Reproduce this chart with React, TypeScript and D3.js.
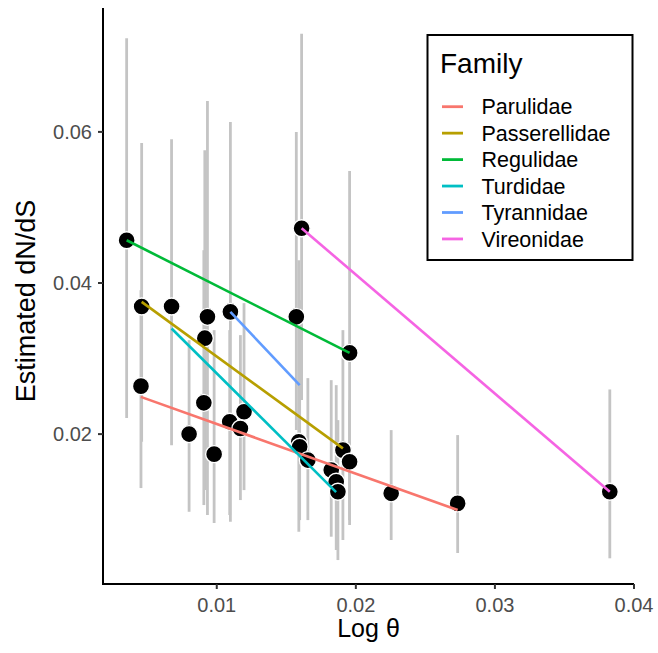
import React from "react";
import * as d3 from "d3";

// Points (estimated dN/dS vs Log θ) with confidence intervals
const pointX = [0.00352, 0.0046, 0.00455, 0.00675, 0.00933, 0.00914, 0.01098, 0.00907, 0.01196, 0.01093, 0.0117, 0.00801, 0.00981, 0.01572, 0.0161, 0.01955, 0.0159, 0.01596, 0.01655, 0.01907, 0.01955, 0.01823, 0.01859, 0.01871, 0.02254, 0.02732, 0.03826];
const pointY = [0.04566, 0.0369, 0.02635, 0.0369, 0.03552, 0.0327, 0.03618, 0.02414, 0.02295, 0.02163, 0.02075, 0.02, 0.01735, 0.03552, 0.04725, 0.03075, 0.01898, 0.01832, 0.01656, 0.01788, 0.01634, 0.01524, 0.01369, 0.01237, 0.01216, 0.01083, 0.01237];
const ciLow = [0.02212, 0.01898, 0.01286, 0.01854, 0.00929, 0.01259, 0.0084, 0.01061, 0.01259, 0.00929, 0.01127, 0.00972, 0.00823, 0.02053, 0.0245, 0.00796, 0.00708, 0.00862, 0.00862, 0.00598, 0.00862, 0.00642, 0.00466, 0.00333, 0.00598, 0.00426, 0.00356];
const ciHigh = [0.07238, 0.05853, 0.03905, 0.05902, 0.06409, 0.05757, 0.06131, 0.04434, 0.03733, 0.03376, 0.0331, 0.03243, 0.03376, 0.05999, 0.073, 0.05483, 0.04302, 0.03772, 0.02741, 0.03376, 0.0245, 0.02714, 0.02648, 0.02185, 0.02053, 0.01987, 0.02591];

// Family regression lines (start/end)
const families = ["Parulidae", "Passerellidae", "Regulidae", "Turdidae", "Tyrannidae", "Vireonidae"];
const familyColors = ["#F8766D", "#B79F00", "#00BA38", "#00BFC4", "#619CFF", "#F564E3"];
const lineX0 = [0.00454, 0.0046, 0.00352, 0.00675, 0.01098, 0.0161];
const lineY0 = [0.02493, 0.0375, 0.04566, 0.03398, 0.03618, 0.04725];
const lineX1 = [0.02732, 0.01907, 0.01955, 0.01858, 0.01596, 0.03826];
const lineY1 = [0.00995, 0.01811, 0.03075, 0.01233, 0.02648, 0.01237];

const xTicks = [0.01, 0.02, 0.03, 0.04];
const yTicks = [0.02, 0.04, 0.06];

const W = 658;
const H = 653;
const FONT = "'Liberation Sans', Arial, Helvetica, sans-serif";

export default function App() {
  const x = d3.scaleLinear().domain([0.00182, 0.04]).range([103, 634]);
  const y = d3.scaleLinear().domain([0.00016, 0.0764]).range([584, 8]);
  const [x0, x1] = x.range();
  const [y0, y1] = y.range();
  const fmt = d3.format(".2f");

  return (
    <div style={{ position: "absolute", left: 0, top: 0 }}>
      <svg width={W} height={H} style={{ display: "block", background: "#fff" }} fontFamily={FONT}>
        {/* error bars */}
        {pointX.map((px, i) => (
          <line key={"e" + i} x1={x(px)} x2={x(px)} y1={y(ciLow[i])} y2={y(ciHigh[i])} stroke="#C4C4C4" strokeWidth={2.8} />
        ))}
        {/* points */}
        {pointX.map((px, i) => (
          <circle key={"p" + i} cx={x(px)} cy={y(pointY[i])} r={8.5} fill="#000" stroke="#fff" strokeWidth={1.4} />
        ))}
        {/* family lines */}
        {families.map((f, i) => (
          <line key={"l" + f} x1={x(lineX0[i])} y1={y(lineY0[i])} x2={x(lineX1[i])} y2={y(lineY1[i])} stroke={familyColors[i]} strokeWidth={2.6} strokeLinecap="butt" />
        ))}
        {/* axes */}
        <line x1={x0} x2={x0} y1={y1} y2={y0 + 1} stroke="#000" strokeWidth={2} />
        <line x1={x0 - 1} x2={x1} y1={y0} y2={y0} stroke="#000" strokeWidth={2} />
        {yTicks.map((t) => (
          <g key={"yt" + t}>
            <line x1={x0 - 5} x2={x0} y1={y(t)} y2={y(t)} stroke="#333" strokeWidth={2} />
            <text x={x0 - 11} y={y(t)} dy="0.35em" textAnchor="end" fontSize={20} fill="#4D4D4D">{fmt(t)}</text>
          </g>
        ))}
        {xTicks.map((t) => (
          <g key={"xt" + t}>
            <line x1={x(t)} x2={x(t)} y1={y0} y2={y0 + 5} stroke="#333" strokeWidth={2} />
            <text x={x(t)} y={611.5} textAnchor="middle" fontSize={20} fill="#4D4D4D">{fmt(t)}</text>
          </g>
        ))}
        <text x={(x0 + x1) / 2} y={637} textAnchor="middle" fontSize={25} fill="#000">Log θ</text>
        <text transform={`translate(35,${(y0 + y1) / 2 + 5}) rotate(-90)`} textAnchor="middle" fontSize={27} fill="#000">Estimated dN/dS</text>
        {/* legend */}
        <rect x={427.5} y={35} width={205} height={225} fill="#fff" stroke="#000" strokeWidth={2} />
        <text x={440} y={73} fontSize={28} fill="#000">Family</text>
        {families.map((f, i) => {
          const cy = 106.7 + i * 26.45;
          return (
            <g key={"lg" + f}>
              <line x1={442} x2={463} y1={cy} y2={cy} stroke={familyColors[i]} strokeWidth={2.8} />
              <text x={481.5} y={cy} dy="0.36em" fontSize={21.5} fill="#000">{f}</text>
            </g>
          );
        })}
      </svg>
    </div>
  );
}
